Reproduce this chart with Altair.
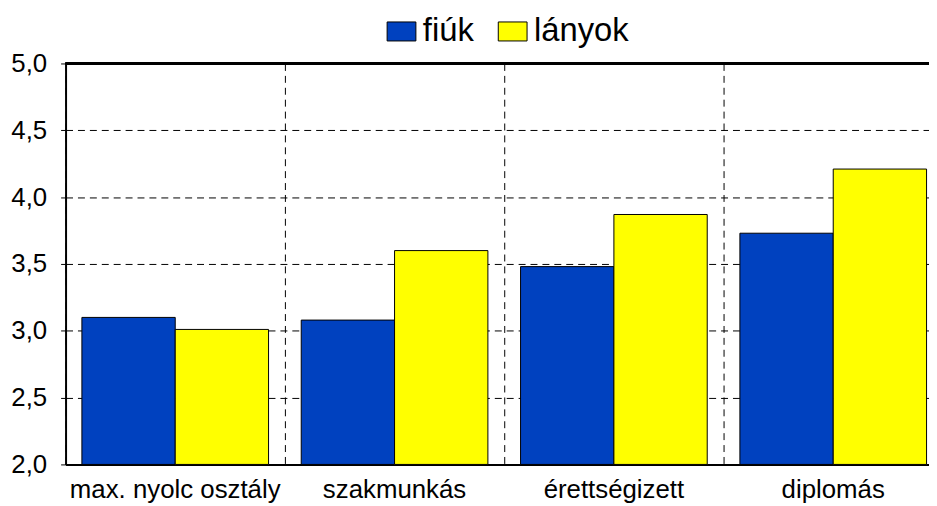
import altair as alt
import pandas as pd

categories = ["max. nyolc osztály", "szakmunkás", "érettségizett", "diplomás"]
series = ["fiúk", "lányok"]
fiuk = [3.10, 3.08, 3.48, 3.73]
lanyok = [3.01, 3.60, 3.87, 4.21]
y_ticks = [2.0, 2.5, 3.0, 3.5, 4.0, 4.5, 5.0]
colors = ["#0041BF", "#FFFF00"]

rows = []
for c, f, l in zip(categories, fiuk, lanyok):
    rows.append({"cat": c, "series": series[0], "value": f})
    rows.append({"cat": c, "series": series[1], "value": l})
df = pd.DataFrame(rows)

FONT = "Liberation Sans"
RECT = "M-1,-0.66L1,-0.66L1,0.66L-1,0.66Z"

bars = alt.Chart(df).mark_bar(stroke="black", strokeWidth=1).encode(
    x=alt.X(
        "cat:N",
        sort=categories,
        scale=alt.Scale(paddingInner=0, paddingOuter=0),
        axis=alt.Axis(
            title=None, labelAngle=0, labelFontSize=26, labelPadding=12,
            labelLimit=0, tickSize=0, domainColor="black", domainWidth=2,
            grid=True, bandPosition=0, gridDash=[7, 5], gridColor="black",
            gridWidth=1, labelColor="black", labelFont=FONT,
        ),
    ),
    xOffset=alt.XOffset(
        "series:N", sort=series, scale=alt.Scale(paddingInner=0, paddingOuter=0.175)
    ),
    y=alt.Y(
        "value:Q",
        scale=alt.Scale(domain=[2, 5], nice=False, zero=False),
        axis=alt.Axis(
            title=None, values=y_ticks,
            labelExpr="replace(format(datum.value, '.1f'), '.', ',')",
            labelFontSize=26, labelPadding=14, tickSize=5, tickColor="black",
            domainColor="black", domainWidth=2, grid=True, gridDash=[7, 5],
            gridColor="black", gridWidth=1, labelColor="black", labelFont=FONT,
        ),
    ),
    y2=alt.datum(2.0),
    color=alt.Color(
        "series:N",
        sort=series,
        scale=alt.Scale(domain=series, range=colors),
        legend=alt.Legend(
            title=None, orient="none", legendX=322, legendY=-49,
            direction="horizontal", symbolType=RECT, symbolSize=841,
            symbolStrokeColor="black", symbolStrokeWidth=1, symbolOpacity=1,
            labelFontSize=33, labelOffset=5, columnPadding=22,
            labelFont=FONT, labelColor="black",
        ),
    ),
)

top = alt.Chart(df).mark_rule(color="black", strokeWidth=2).encode(
    y=alt.datum(5.0)
)

chart = (bars + top).properties(
    width=884,
    height=404,
    autosize=alt.AutoSizeParams(type="none"),
    padding={"left": 58, "top": 54, "right": -14, "bottom": 40},
).configure_view(stroke=None)

chart.save("out.html", embed_options={"renderer": "svg", "actions": False})
